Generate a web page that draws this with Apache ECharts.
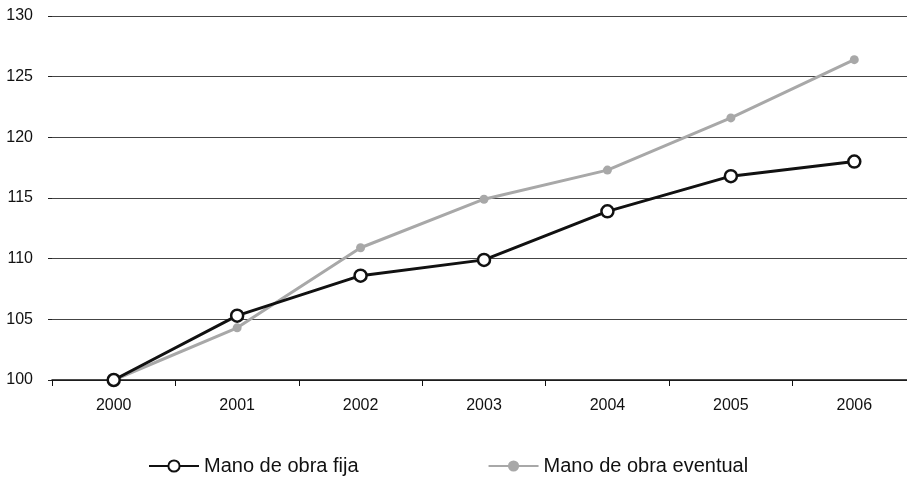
<!DOCTYPE html>
<html lang="es">
<head>
<meta charset="UTF-8">
<title>Mano de obra</title>
<script src="https://cdn.jsdelivr.net/npm/echarts@6/dist/echarts.min.js"></script>
<style>
  html, body { margin: 0; padding: 0; background: #fff; overflow: hidden; }
  /* a bit wider than the window: the last category runs past the right edge in the original */
  #chart { width: 916px; height: 480px; }
</style>
</head>
<body>
<div id="chart"></div>
<script>
// datos
var years = ['2000', '2001', '2002', '2003', '2004', '2005', '2006'];
var fija = [100, 105.3, 108.6, 109.9, 113.9, 116.8, 118.0];
var eventual = [100, 104.3, 110.9, 114.9, 117.3, 121.6, 126.4];
var yTicks = [100, 105, 110, 115, 120, 125, 130];

var chart = echarts.init(document.getElementById('chart'));
var font = 'Liberation Sans, Arial, sans-serif';

chart.setOption({
    animation: false,
    grid: { left: 52, top: 16, right: 0, height: 364 },
    legend: {
        left: 143,
        top: 451,
        itemWidth: 50,
        itemHeight: 14,
        itemGap: 129,
        textStyle: { fontFamily: font, fontSize: 20, color: '#111' },
        data: ['Mano de obra fija', 'Mano de obra eventual']
    },
    xAxis: {
        type: 'category',
        data: years,
        boundaryGap: true,
        axisLine: { lineStyle: { color: '#111', width: 1.5 } },
        axisTick: { show: true, length: 6, lineStyle: { color: '#111' } },
        axisLabel: { fontFamily: font, fontSize: 16, color: '#111', margin: 18 }
    },
    yAxis: {
        type: 'value',
        min: yTicks[0],
        max: yTicks[yTicks.length - 1],
        interval: 5,
        axisLine: { show: false },
        axisTick: { show: true, length: 4, lineStyle: { color: '#222' } },
        axisLabel: { fontFamily: font, fontSize: 16, color: '#111', margin: 19 },
        splitLine: { lineStyle: { color: '#444', width: 1 } }
    },
    series: [
        {
            name: 'Mano de obra eventual',
            type: 'line',
            data: eventual,
            symbol: 'circle',
            symbolSize: 9,
            itemStyle: { color: '#a8a8a8' },
            lineStyle: { color: '#a8a8a8', width: 3 },
            z: 2
        },
        {
            name: 'Mano de obra fija',
            type: 'line',
            data: fija,
            symbol: 'circle',
            symbolSize: 12,
            itemStyle: { color: '#fff', borderColor: '#111', borderWidth: 2.5 },
            lineStyle: { color: '#111', width: 3 },
            z: 3
        }
    ]
});
</script>
</body>
</html>
